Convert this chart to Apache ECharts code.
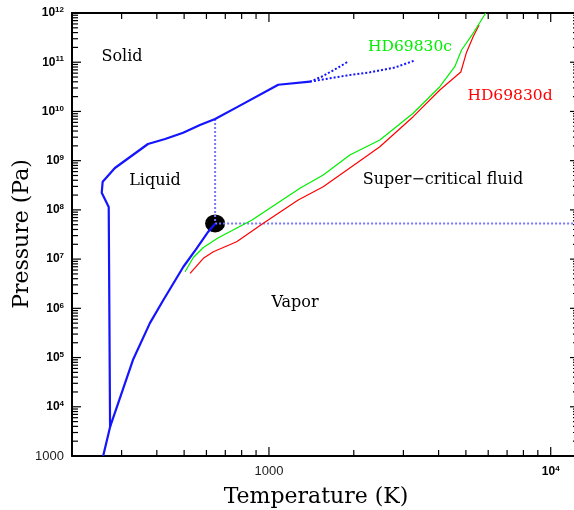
<!DOCTYPE html>
<html><head><meta charset="utf-8">
<script src="https://cdn.jsdelivr.net/npm/echarts@6/dist/echarts.min.js"></script>
<style>html,body{margin:0;padding:0;background:#fff}#c{width:574px;height:510px}</style>
</head><body><div id="c"></div>
<script>
// ---- data (Temperature in K, Pressure in Pa) ----
const vaporT = [258, 273, 329, 378, 422, 497, 554, 609, 645];
const vaporP = [1.0e3, 3.9e3, 8.9e4, 5.0e5, 1.48e6, 7.0e6, 1.66e7, 3.6e7, 5.3e7];

const meltT = [273, 270, 255, 257, 284, 372, 428, 496, 569, 644, 768, 1079, 1398];
const meltP = [3.9e3, 1.15e8, 2.23e8, 3.74e8, 7.1e8, 2.18e9, 2.75e9, 3.7e9, 5.3e9, 7.0e9, 1.21e10, 3.49e10, 4.02e10];

const solidAT = [1398, 1558, 1738, 1911];
const solidAP = [4.02e10, 5.25e10, 7.5e10, 1.03e11];
const solidBT = [1398, 1645, 1886, 2282, 2797, 3268];
const solidBP = [4.02e10, 4.71e10, 5.37e10, 6.24e10, 7.8e10, 1.07e11];

const critT = [644];
const critP = [5.3e7];
const critVertT = [644, 644];
const critVertP = [7.0e9, 5.3e7];
const critHorT = [644, 12600];
const critHorP = [5.3e7, 5.3e7];

const cT = [504, 539, 585, 659, 871, 1288, 1558, 1937, 2475, 3249, 4040, 4566, 4825, 5304, 5880];
const cP = [5.55e6, 1.08e7, 1.72e7, 2.68e7, 6.23e7, 2.74e8, 5.1e8, 1.30e9, 2.63e9, 9.17e9, 3.18e10, 8.1e10, 1.77e11, 3.87e11, 1.0e12];

const dT = [525, 585, 635, 768, 955, 1270, 1558, 2046, 2475, 3249, 4040, 4797, 5024, 5304, 5569];
const dP = [5.15e6, 1.04e7, 1.41e7, 2.26e7, 5.33e7, 1.59e8, 2.96e8, 8.84e8, 1.92e9, 7.82e9, 2.73e10, 6.33e10, 1.58e11, 3.3e11, 5.7e11];

const xMajorExp = [3, 4];
const yMajorExp = [3, 4, 5, 6, 7, 8, 9, 10, 11, 12];
const minorMant = [2, 3, 4, 5, 6, 7, 8, 9];
const xRange = [200, 12600];
const yRange = [1e3, 1e12];

// ---- build ----
const L = function (x) { return Math.log10(x); };
const pairs = (T, P) => T.map((t, i) => [L(t), L(P[i])]);
const xLo = L(xRange[0]), xHi = L(xRange[1]), yLo = L(yRange[0]), yHi = L(yRange[1]);
const xMinor = [];
const yMinor = [];
[2, 3].forEach(function (e) {
  minorMant.forEach(function (k) {
    const v = e + Math.log(k) / Math.LN10;
    if (v > xLo + 0.001 && v < xHi) xMinor.push(v);
  });
});
[3, 4, 5, 6, 7, 8, 9, 10, 11].forEach(function (e) {
  minorMant.forEach(function (k) { yMinor.push(e + Math.log(k) / Math.LN10); });
});

// tick records: [value, side(0 bottom,1 top,2 left,3 right), length]
const ticks = [];
xMajorExp.forEach(v => { ticks.push([v, 0, 9], [v, 1, 9]); });
xMinor.forEach(v => { ticks.push([v, 0, 6], [v, 1, 6]); });
yMajorExp.forEach(v => { ticks.push([v, 2, 9], [v, 3, 9]); });
yMinor.forEach(v => { ticks.push([v, 2, 6], [v, 3, 6]); });

const rich = {
  n: {fontSize: 13, fontFamily: 'Liberation Sans', color: '#222'},
  b: {fontSize: 12, fontWeight: 'bold', fontFamily: 'Liberation Sans', color: '#000', lineHeight: 14},
  s: {fontSize: 8, fontWeight: 'bold', fontFamily: 'Liberation Sans', color: '#000', verticalAlign: 'top', lineHeight: 14}
};
const fmt = v => { const n = Math.round(v); return n === 3 ? '{n|1000}' : '{b|10}{s|' + n + '}'; };

function axis(kind, pos, label) {
  return {
    type: 'value', position: pos,
    min: kind === 'x' ? xLo : yLo,
    max: kind === 'x' ? xHi : yHi,
    axisLine: {show: true, onZero: false, lineStyle: {color: '#000', width: 2}},
    axisTick: {show: false},
    axisLabel: label
      ? {show: true, customValues: kind === 'x' ? xMajorExp : yMajorExp, formatter: fmt, rich: rich, margin: kind === 'x' ? 9 : 8}
      : {show: false},
    splitLine: {show: false}
  };
}

const blue = '#1414ff';
const line = (name, data, color, width, type) => ({
  name, type: 'line', data, symbol: 'none', silent: true, clip: true,
  lineStyle: {color, width, type: type || 'solid'}
});
const txt = (x, y, text, fill, size, extra) => Object.assign({type: 'text', x, y, silent: true, z: 10,
  style: {text, fill, font: size + 'px "DejaVu Serif"', textAlign: 'center', textVerticalAlign: 'middle'}}, extra || {});

const option = {
  animation: false,
  backgroundColor: '#fff',
  grid: {left: 72, top: 13, width: 507, height: 443, containLabel: false, outerBoundsMode: 'none'},
  xAxis: [axis('x', 'bottom', true), axis('x', 'top', false)],
  yAxis: [axis('y', 'left', true), axis('y', 'right', false)],
  series: [
    line('critVert', pairs(critVertT, critVertP), '#7878ff', 2, [2, 2]),
    line('critHor', pairs(critHorT, critHorP), '#7878ff', 2, [2, 2]),
    line('solidA', pairs(solidAT, solidAP), blue, 2, [2, 2]),
    line('solidB', pairs(solidBT, solidBP), blue, 2, [2, 2]),
    line('HD69830d', pairs(dT, dP), '#ff0000', 1.2),
    line('HD69830c', pairs(cT, cP), '#00ee00', 1.2),
    line('vapor', pairs(vaporT, vaporP), blue, 2.2),
    line('melt', pairs(meltT, meltP), blue, 2.2),
    {name: 'critical', type: 'scatter', data: pairs(critT, critP), symbol: 'circle', symbolSize: [20, 18], silent: true,
      itemStyle: {color: '#000', opacity: 1}}
  ]
};
const chart = echarts.init(document.getElementById('c'), null, {renderer: 'canvas'});
chart.setOption(option);

// ticks placed through the grid's own scales
const tickEls = ticks.map(function (t) {
  const v = t[0], side = t[1], len = t[2];
  let a, b;
  if (side === 0) { a = chart.convertToPixel({gridIndex: 0}, [v, yLo]); b = [a[0], a[1] - len]; }
  else if (side === 1) { a = chart.convertToPixel({gridIndex: 0}, [v, yHi]); b = [a[0], a[1] + len]; }
  else if (side === 2) { a = chart.convertToPixel({gridIndex: 0}, [xLo, v]); b = [a[0] + len, a[1]]; }
  else { a = chart.convertToPixel({gridIndex: 0}, [xHi, v]); b = [a[0] - len, a[1]]; }
  return {type: 'line', silent: true, z: 6,
    shape: {x1: a[0], y1: a[1], x2: b[0], y2: b[1]}, style: {stroke: '#000', lineWidth: 1.2}};
});

chart.setOption({
  graphic: tickEls.concat([
    txt(122, 57, 'Solid', '#000', 16),
    txt(155, 181, 'Liquid', '#000', 16),
    txt(443, 180, 'Super\u2212critical fluid', '#000', 16),
    txt(295, 303, 'Vapor', '#000', 16),
    txt(410, 47, 'HD69830c', '#00ee00', 15.5),
    txt(510, 96, 'HD69830d', '#ff0000', 15.5),
    txt(316, 497, 'Temperature (K)', '#000', 22),
    txt(22, 234, 'Pressure (Pa)', '#000', 22, {rotation: Math.PI / 2})
  ])
});
</script>
</body></html>
